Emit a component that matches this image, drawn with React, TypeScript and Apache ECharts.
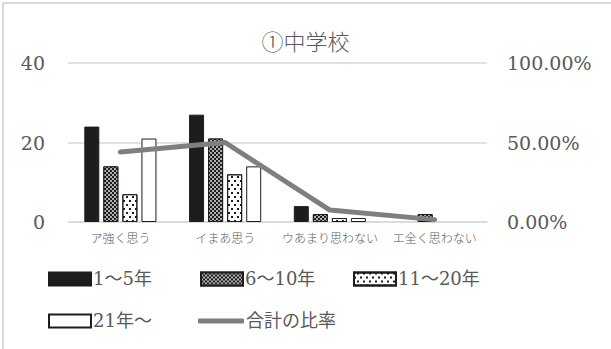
import React, { useEffect, useRef } from "react";
import * as echarts from "echarts";

const categories = ["ア強く思う", "イまあ思う", "ウあまり思わない", "エ全く思わない"];
const years1to5 = [24, 27, 4, 0];
const years6to10 = [14, 21, 2, 2];
const years11to20 = [7, 12, 1, 0];
const years21plus = [21, 14, 1, 0];
const totalRatio = [0.44, 0.5, 0.075, 0.015];
const leftTicks = { min: 0, max: 40, interval: 20 };
const rightTicks = { min: 0, max: 1, interval: 0.5 };

const SERIF = '"DejaVu Serif", "Noto Sans CJK JP", serif';
const GRAY = "#595959";

const hideZero = (arr: number[]) => arr.map((v) => (v === 0 ? null : v));

export default function App() {
  const ref = useRef<HTMLDivElement>(null);
  useEffect(() => {
    if (!ref.current) return;
    const chart = echarts.init(ref.current, null, { renderer: "svg" });
    const barBase = { type: "bar", barWidth: 15, barGap: "27%", yAxisIndex: 0 };
    const legendBase = {
      icon: "rect",
      itemWidth: 42,
      itemHeight: 13,
      itemGap: 0,
      textStyle: { fontFamily: SERIF, fontSize: 18, color: GRAY, padding: [0, 0, 0, -3] },
      selectedMode: false,
    };
    chart.setOption({
      animation: false,
      backgroundColor: "#ffffff",
      title: {
        text: "①中学校",
        left: "center",
        top: 24,
        textStyle: { fontFamily: '"Noto Sans CJK JP", sans-serif', fontSize: 22, fontWeight: 300, color: GRAY },
      },
      graphic: [
        {
          type: "rect",
          shape: { x: 3, y: 3, width: 640, height: 400 },
          style: { fill: "none", stroke: "#d9d9d9", lineWidth: 2 },
          silent: true,
        },
      ],
      grid: { left: 68, right: 124, top: 63, bottom: 127 },
      legend: [
        { ...legendBase, left: 43, top: 265, data: ["1～5年"] },
        { ...legendBase, left: 195, top: 265, data: ["6～10年"] },
        { ...legendBase, left: 348, top: 265, data: ["11～20年"] },
        { ...legendBase, left: 43, top: 307, data: ["21年～"] },
        {
          ...legendBase,
          left: 193,
          top: 307,
          itemWidth: 46,
          itemHeight: 5,
          data: [{ name: "合計の比率", icon: "roundRect" }],
        },
      ],
      xAxis: {
        type: "category",
        data: categories,
        axisLine: { lineStyle: { color: "#d9d9d9", width: 1.5 } },
        axisTick: { show: false },
        axisLabel: {
          color: GRAY,
          fontSize: 12,
          fontWeight: 300,
          fontFamily: '"Noto Sans CJK JP", sans-serif',
          margin: 9,
          interval: 0,
        },
      },
      yAxis: [
        {
          type: "value",
          ...leftTicks,
          axisLine: { show: false },
          axisTick: { show: false },
          splitLine: { lineStyle: { color: "#d9d9d9", width: 1.5 } },
          axisLabel: { color: GRAY, fontSize: 19, fontFamily: SERIF, margin: 23 },
        },
        {
          type: "value",
          ...rightTicks,
          axisLine: { show: false },
          axisTick: { show: false },
          splitLine: { show: false },
          axisLabel: {
            color: GRAY,
            fontSize: 19,
            fontFamily: SERIF,
            margin: 20,
            formatter: (v: number) => (v * 100).toFixed(2) + "%",
          },
        },
      ],
      series: [
        {
          ...barBase,
          name: "1～5年",
          data: hideZero(years1to5),
          itemStyle: { color: "#1f1c1d", borderColor: "#1f1c1d", borderWidth: 1 },
        },
        {
          ...barBase,
          name: "6～10年",
          data: hideZero(years6to10),
          itemStyle: {
            color: "#1f1c1d",
            borderColor: "#1f1c1d",
            borderWidth: 1,
            decal: {
              symbol: "circle",
              symbolSize: 0.8,
              color: "#ffffff",
              dashArrayX: [[2, 2], [0, 2, 2, 0]],
              dashArrayY: [2, 0],
            },
          },
        },
        {
          ...barBase,
          name: "11～20年",
          data: hideZero(years11to20),
          itemStyle: {
            color: "#ffffff",
            borderColor: "#1f1c1d",
            borderWidth: 1,
            decal: {
              symbol: "rect",
              symbolSize: 1,
              color: "#1f1c1d",
              dashArrayX: [[1.5, 3.5], [0, 2.5, 1.5, 1]],
              dashArrayY: [1.5, 1.5],
            },
          },
        },
        {
          ...barBase,
          name: "21年～",
          data: hideZero(years21plus),
          itemStyle: { color: "#ffffff", borderColor: "#1f1c1d", borderWidth: 1 },
        },
        {
          type: "line",
          name: "合計の比率",
          yAxisIndex: 1,
          data: totalRatio,
          symbol: "none",
          showSymbol: false,
          lineStyle: { color: "#7f7f7f", width: 5, cap: "round", join: "round" },
          itemStyle: { color: "#7f7f7f" },
        },
      ],
    });
    return () => chart.dispose();
  }, []);
  return (
    <div
      ref={ref}
      style={{ position: "fixed", left: 0, top: 0, width: 611, height: 349, background: "#fff" }}
    />
  );
}
